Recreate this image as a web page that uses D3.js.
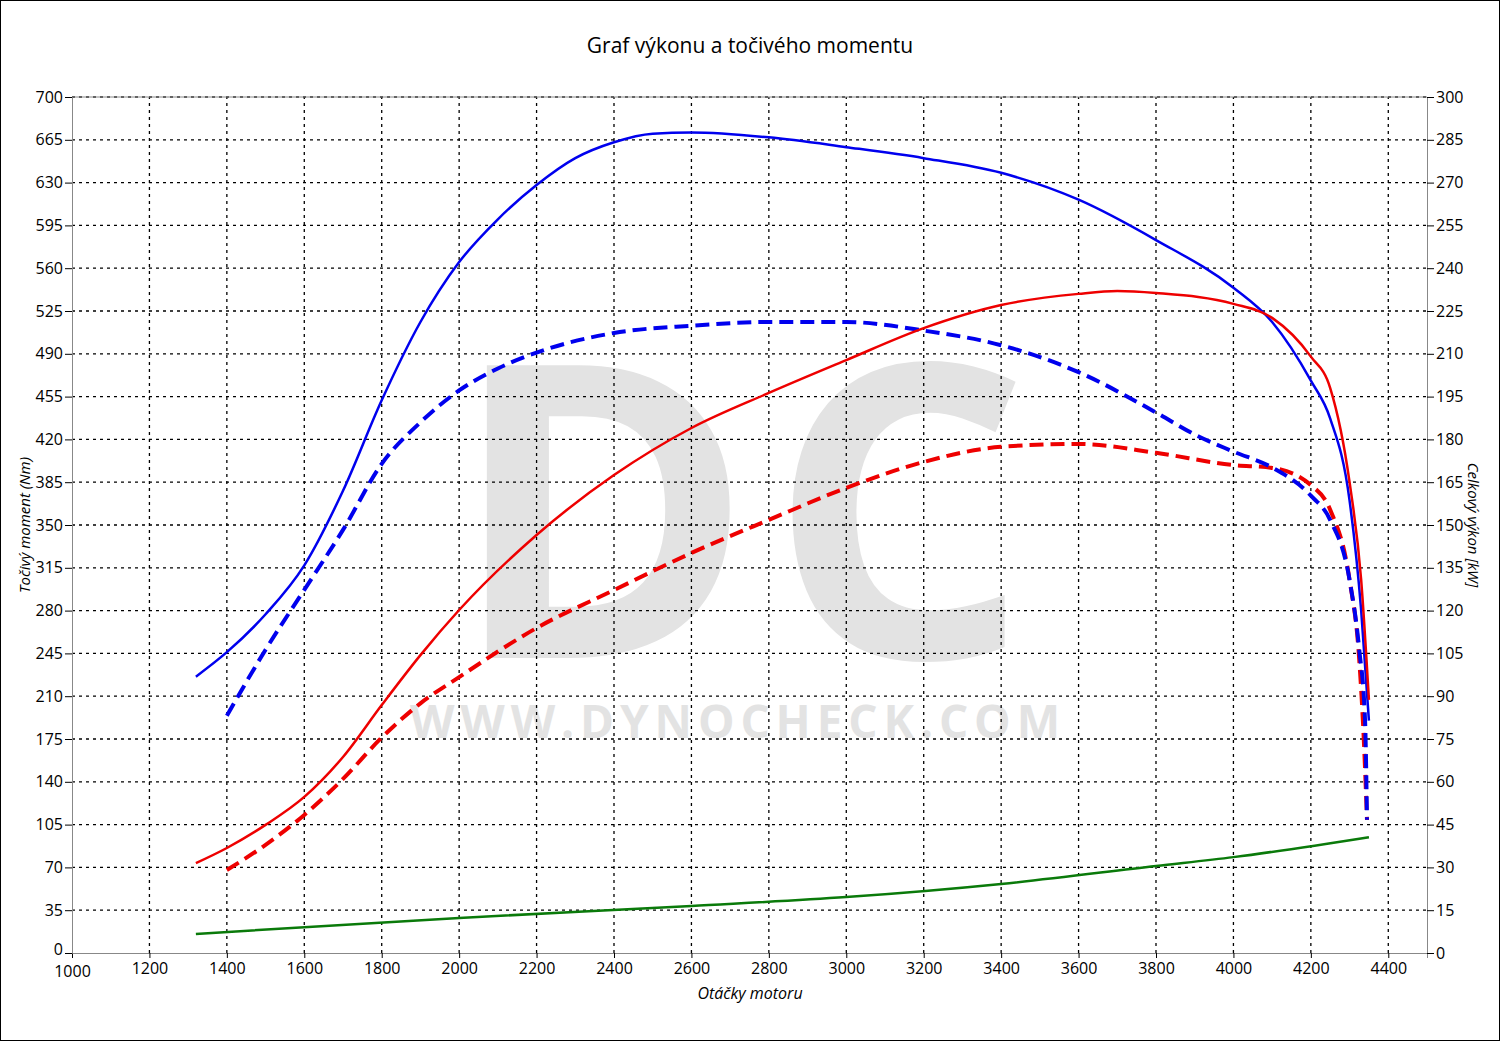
<!DOCTYPE html>
<html>
<head>
<meta charset="UTF-8">
<script src="https://d3js.org/d3.v7.min.js"></script>
<style>
 body { margin: 0; background: #fff; }
 text { font-family: "Open Sans", "Noto Sans", sans-serif; }
</style>
</head>
<body>
<svg class="chart"></svg>
<script>
var width = 1500, height = 1041;
var margin = {left: 72, right: 73, top: 97, bottom: 88};

var rpmTicks = [1000,1200,1400,1600,1800,2000,2200,2400,2600,2800,3000,3200,3400,3600,3800,4000,4200,4400];
var torqueTicks = [0,35,70,105,140,175,210,245,280,315,350,385,420,455,490,525,560,595,630,665,700];
var powerTicks = [0,15,30,45,60,75,90,105,120,135,150,165,180,195,210,225,240,255,270,285,300];

var torqueTunedRpm = [1320,1400,1500,1600,1700,1800,1900,2000,2100,2200,2300,2400,2500,2600,2800,3000,3200,3400,3600,3800,4000,4100,4200,4250,4300,4330,4350];
var torqueTuned = [226,246,277,317,378,452,516,565,600,628,650,663,670,671,667,659,650,638,616,583,544,516,468,437,370,280,190];

var torqueStockRpm = [1400,1500,1600,1700,1800,1900,2000,2100,2200,2400,2600,2800,3000,3200,3400,3600,3800,3900,4000,4100,4200,4250,4300,4325,4340,4345];
var torqueStock = [194,248,297,346,400,434,460,478,491,507,513,516,516,509,497,475,442,424,410,397,374,354,305,248,190,109];

var powerTunedRpm = [1320,1400,1500,1600,1700,1800,1900,2000,2200,2400,2600,2800,3000,3200,3400,3600,3700,3800,4000,4100,4200,4250,4300,4330,4350];
var powerTuned = [31.5,36.8,44.9,54.7,68.7,86.9,104.4,120.2,146.5,167.5,184,196.3,207.8,219,227.1,231,232,231.3,227.5,222.6,209,198,165,130.7,88.7];

var powerStockRpm = [1400,1500,1600,1700,1800,1900,2000,2200,2400,2600,2800,3000,3200,3400,3600,3800,4000,4100,4200,4250,4300,4325,4338,4345];
var powerStock = [29.1,37.9,48.4,61,75.5,87.5,96.7,113.9,127.2,140.2,151.8,163,172.1,177.4,178.4,175.3,171,170,164,155.3,130.7,102.7,71,46.6];

var lossRpm = [1320,2000,2600,3000,3400,3800,4000,4350];
var lossPower = [6.7,12.3,16.5,19.6,24.2,30.5,33.6,40.6];

var svg = d3.select(".chart").attr("width", width).attr("height", height);
svg.append("rect").attr("x", 0.5).attr("y", 0.5).attr("width", width - 1).attr("height", height - 1)
   .attr("fill", "#fff").attr("stroke", "#000");

var x = d3.scaleLinear().domain([1000, 4500]).range([margin.left, width - margin.right]);
var yL = d3.scaleLinear().domain([0, 700]).range([height - margin.bottom, margin.top]);
var yR = d3.scaleLinear().domain([0, 300]).range([height - margin.bottom, margin.top]);

// watermark
svg.append("text").attr("x", 740).attr("y", 658).attr("text-anchor", "middle")
   .attr("font-size", 410).attr("font-weight", "bold").attr("fill", "#e3e3e3")
   .attr("font-family", "DejaVu Sans").attr("textLength", 580).text("DC");
svg.append("text").attr("x", 735).attr("y", 738).attr("text-anchor", "middle")
   .attr("font-size", 46).attr("font-weight", "bold").attr("fill", "#e3e3e3")
   .attr("font-family", "DejaVu Sans").attr("textLength", 650).text("WWW.DYNOCHECK.COM");

// grid
var grid = svg.append("g").attr("stroke", "#000").attr("stroke-dasharray", "3,4").attr("stroke-width", 1.3);
rpmTicks.slice(1).forEach(function(d) {
  grid.append("line").attr("x1", x(d)).attr("x2", x(d)).attr("y1", yL(0)).attr("y2", yL(700));
});
torqueTicks.slice(1).forEach(function(d) {
  grid.append("line").attr("x1", x(1000)).attr("x2", x(4500)).attr("y1", yL(d)).attr("y2", yL(d));
});

// axes
var ax = svg.append("g").attr("transform", "translate(0," + yL(0) + ")")
  .call(d3.axisBottom(x).tickValues(rpmTicks).tickFormat(d3.format("d")).tickSize(5).tickPadding(5));
var al = svg.append("g").attr("transform", "translate(" + x(1000) + ",0)")
  .call(d3.axisLeft(yL).tickValues(torqueTicks).tickFormat(d3.format("d")).tickSize(7).tickPadding(2));
var ar = svg.append("g").attr("transform", "translate(" + x(4500) + ",0)")
  .call(d3.axisRight(yR).tickValues(powerTicks).tickFormat(d3.format("d")).tickSize(7).tickPadding(2));
[ax, al, ar].forEach(function(a) {
  a.selectAll("path").attr("stroke", "#888");
  a.selectAll("line").attr("stroke", "#000");
  a.selectAll("text").attr("font-size", 16).attr("fill", "#000").attr("font-family", "Open Sans");
});
al.selectAll(".tick text").filter(function(d) { return d === 0; }).attr("dy", "0.1em");
ax.selectAll(".tick text").filter(function(d) { return d === 1000; }).attr("dy", "0.9em");
svg.append("line").attr("x1", x(1000)).attr("x2", x(4500)).attr("y1", yL(700)).attr("y2", yL(700)).attr("stroke", "#888");

// curves
var line = function(ys, xs, yScale) {
  return d3.line().curve(d3.curveMonotoneX)
    .x(function(d, i) { return x(xs[i]); })
    .y(function(d) { return yScale(d); })(ys);
};
var series = [
  {v: lossPower, r: lossRpm, s: yR, c: "#0a7a0a", dash: null},
  {v: powerStock, r: powerStockRpm, s: yR, c: "#ee0000", dash: "14,7"},
  {v: torqueStock, r: torqueStockRpm, s: yL, c: "#0000ee", dash: "14,7"},
  {v: torqueTuned, r: torqueTunedRpm, s: yL, c: "#0000ee", dash: null},
  {v: powerTuned, r: powerTunedRpm, s: yR, c: "#ee0000", dash: null}
];
series.forEach(function(d) {
  svg.append("path").attr("d", line(d.v, d.r, d.s)).attr("fill", "none")
     .attr("stroke", d.c).attr("stroke-width", d.dash ? 4 : 2.5)
     .attr("stroke-dasharray", d.dash);
});

// titles
svg.append("text").attr("x", 750).attr("y", 53).attr("text-anchor", "middle")
   .attr("font-size", 21).text("Graf výkonu a točivého momentu");
svg.append("text").attr("x", 750).attr("y", 999).attr("text-anchor", "middle")
   .attr("font-size", 16).attr("font-style", "italic").text("Otáčky motoru");
svg.append("text").attr("transform", "translate(30,525) rotate(-90)").attr("text-anchor", "middle")
   .attr("font-size", 15).attr("font-style", "italic").text("Točivý moment (Nm)");
svg.append("text").attr("transform", "translate(1468,525) rotate(90)").attr("text-anchor", "middle")
   .attr("font-size", 15).attr("font-style", "italic").text("Celkový výkon [kW]");
</script>
</body>
</html>
